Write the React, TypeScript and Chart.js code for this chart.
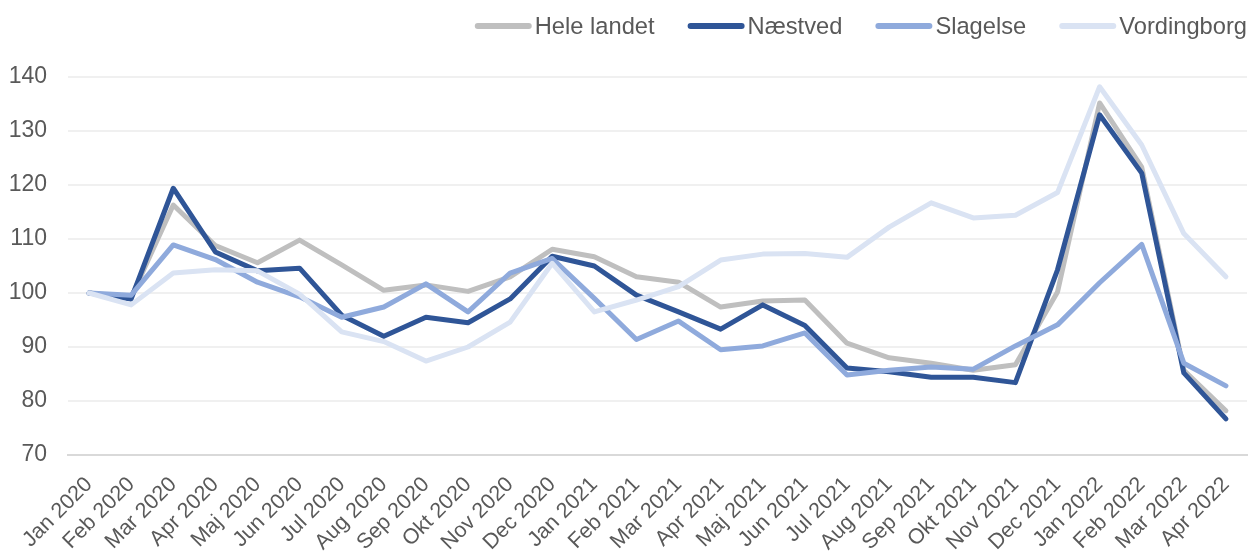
import React, { useEffect, useRef } from 'react';
import { Chart, registerables } from 'chart.js';

Chart.register(...registerables);

const categories = [
  'Jan 2020', 'Feb 2020', 'Mar 2020', 'Apr 2020', 'Maj 2020', 'Jun 2020', 'Jul 2020',
  'Aug 2020', 'Sep 2020', 'Okt 2020', 'Nov 2020', 'Dec 2020', 'Jan 2021', 'Feb 2021',
  'Mar 2021', 'Apr 2021', 'Maj 2021', 'Jun 2021', 'Jul 2021', 'Aug 2021', 'Sep 2021',
  'Okt 2021', 'Nov 2021', 'Dec 2021', 'Jan 2022', 'Feb 2022', 'Mar 2022', 'Apr 2022',
];

const seriesNames = ['Hele landet', 'Næstved', 'Slagelse', 'Vordingborg'];

const heleLandet = [100, 99.2, 116.3, 108.8, 105.6, 109.8, 105.2, 100.5, 101.5, 100.3, 103, 108.1, 106.7, 103, 102, 97.4, 98.5, 98.7, 90.7, 88, 87, 85.7, 86.7, 100.2, 135.2, 123.3, 85.7, 78.2];
const naestved = [100, 98.9, 119.4, 107.6, 104.1, 104.6, 95.9, 92, 95.5, 94.5, 98.9, 106.8, 105, 99.6, 96.5, 93.3, 97.8, 94, 86.1, 85.4, 84.4, 84.4, 83.4, 104.3, 133, 122.2, 85.2, 76.7];
const slagelse = [100, 99.6, 108.9, 106.2, 102, 99.3, 95.5, 97.4, 101.7, 96.5, 103.7, 106.4, 99, 91.4, 94.8, 89.5, 90.2, 92.6, 84.8, 85.7, 86.3, 85.9, 90.2, 94.1, 101.9, 109, 87, 82.8];
const vordingborg = [100, 97.8, 103.7, 104.3, 104.1, 99.8, 92.8, 91, 87.4, 90, 94.6, 105.5, 96.5, 98.7, 101.2, 106.1, 107.2, 107.3, 106.6, 112.2, 116.7, 113.9, 114.4, 118.6, 138.2, 127.4, 111, 103];

const yMin = 70;
const yMax = 140;
const yStep = 10;

const colors = ['#BFBFBF', '#2F5597', '#8FAADC', '#DAE3F3'];
const FONT = '"Liberation Sans", Arial, sans-serif';
const TEXT = '#595959';

const legendPlugin = {
  id: 'customLegend',
  afterDraw(chart: any) {
    const ctx = chart.ctx as CanvasRenderingContext2D;
    ctx.save();
    ctx.font = `23.7px ${FONT}`;
    const lineW = 57;
    const gapLT = 3;
    const gapItem = 33;
    const widths = seriesNames.map((n) => ctx.measureText(n).width);
    const total = widths.reduce((s, w) => s + lineW + gapLT + w, 0) + gapItem * (seriesNames.length - 1);
    let x = 1247 - total;
    const yLine = 26;
    const yBase = 34;
    seriesNames.forEach((n, i) => {
      ctx.strokeStyle = colors[i];
      ctx.lineWidth = 6;
      ctx.lineCap = 'round';
      ctx.beginPath();
      ctx.moveTo(x + 3, yLine);
      ctx.lineTo(x + lineW - 3, yLine);
      ctx.stroke();
      ctx.fillStyle = TEXT;
      ctx.textBaseline = 'alphabetic';
      ctx.textAlign = 'left';
      ctx.fillText(n, x + lineW + gapLT, yBase);
      x += lineW + gapLT + widths[i] + gapItem;
    });
    ctx.restore();
  },
};

export default function App() {
  const ref = useRef<HTMLCanvasElement>(null);
  useEffect(() => {
    document.body.style.margin = '0';
    const seriesData = [heleLandet, naestved, slagelse, vordingborg];
    const chart = new Chart(ref.current as HTMLCanvasElement, {
      type: 'line',
      data: {
        labels: categories,
        datasets: seriesNames.map((name, i) => ({
          label: name,
          data: seriesData[i],
          borderColor: colors[i],
          backgroundColor: colors[i],
          borderWidth: 5,
          pointRadius: 0,
          tension: 0,
          fill: false,
          borderCapStyle: 'round' as const,
          borderJoinStyle: 'round' as const,
          order: 4 - i,
        })),
      },
      options: {
        animation: false,
        responsive: true,
        maintainAspectRatio: false,
        layout: { padding: { top: 77, left: 8, right: 3, bottom: 0 } },
        plugins: {
          legend: { display: false },
          tooltip: { enabled: false },
        },
        scales: {
          x: {
            offset: true,
            grid: { display: false, drawTicks: false },
            border: { display: true, color: '#D9D9D9', width: 2 },
            ticks: {
              autoSkip: false,
              minRotation: 45,
              maxRotation: 45,
              color: TEXT,
              font: { family: FONT, size: 21.5 },
              padding: 17,
            },
            afterFit: (scale: any) => {
              scale.paddingLeft = 0;
              scale.paddingRight = 0;
              scale.height = 96;
            },
          },
          y: {
            min: yMin,
            max: yMax,
            grid: {
              drawTicks: false,
              color: (c: any) => (c.tick && c.tick.value === yMin ? '#D9D9D9' : '#F0F0F0'),
              lineWidth: 2,
            },
            border: { display: false },
            ticks: {
              stepSize: yStep,
              color: TEXT,
              font: { family: FONT, size: 23 },
              padding: 21,
            },
            afterFit: (scale: any) => {
              scale.width = 60;
            },
          },
        },
      },
      plugins: [legendPlugin],
    });
    return () => chart.destroy();
  }, []);
  return (
    <div style={{ width: 1250, height: 551, position: 'relative' }}>
      <canvas ref={ref} />
    </div>
  );
}
